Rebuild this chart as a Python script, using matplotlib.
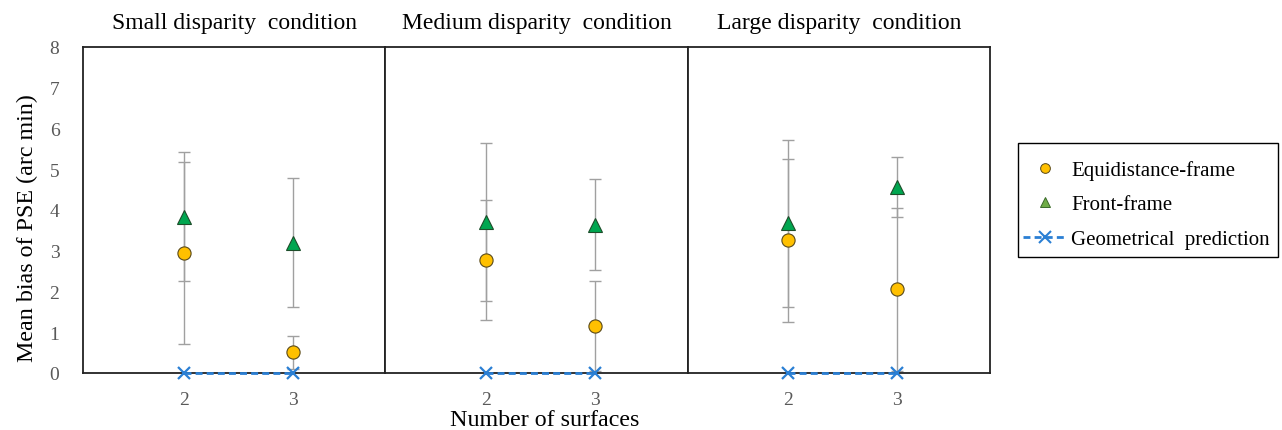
import matplotlib
matplotlib.use("Agg")
import matplotlib.pyplot as plt
from matplotlib.lines import Line2D
from matplotlib.patches import Rectangle

plt.rcParams['font.family'] = ['Liberation Serif', 'DejaVu Serif']

panels = ["Small disparity  condition", "Medium disparity  condition", "Large disparity  condition"]
surfaces = [2, 3]
equi_mean = [[2.95, 0.51], [2.77, 1.15], [3.26, 2.05]]
equi_err = [[2.24, 0.40], [1.47, 1.10], [2.00, 2.01]]
front_mean = [[3.84, 3.20], [3.71, 3.64], [3.68, 4.57]]
front_err = [[1.58, 1.58], [1.94, 1.12], [2.05, 0.73]]
geo_pred = [[0, 0], [0, 0], [0, 0]]
yticks = [0, 1, 2, 3, 4, 5, 6, 7, 8]

W, H = 1282, 431
fig = plt.figure(figsize=(W / 100, H / 100), dpi=100)

left_px, right_px, top_px, bot_px = 83, 990, 48, 374
pw = (right_px - left_px) / 3

equi_c = "#FFC000"
front_c = "#00A650"
geo_c = "#2A7FD4"
err_c = "#A0A0A0"
tick_c = "#595959"

axes = []
for i, title in enumerate(panels):
    ax = fig.add_axes([(left_px + i * pw) / W, (H - bot_px) / H, pw / W, (bot_px - top_px) / H])
    axes.append(ax)
    ax.errorbar(surfaces, front_mean[i], yerr=front_err[i], fmt='none', ecolor=err_c,
                elinewidth=1.0, capsize=4, capthick=1.0, zorder=2)
    ax.errorbar(surfaces, equi_mean[i], yerr=equi_err[i], fmt='none', ecolor=err_c,
                elinewidth=1.0, capsize=4, capthick=1.0, zorder=2)
    ax.plot(surfaces, geo_pred[i], linestyle=(0, (2.5, 1.5)), color=geo_c, lw=2.0,
            marker='x', markersize=9, markeredgewidth=1.6, clip_on=False, zorder=4)
    ax.plot(surfaces, equi_mean[i], linestyle='none', marker='o', markersize=9.5,
            markerfacecolor=equi_c, markeredgecolor="#5a4a1a", markeredgewidth=0.8, zorder=5)
    ax.plot(surfaces, front_mean[i], linestyle='none', marker='^', markersize=9.5,
            markerfacecolor=front_c, markeredgecolor="#1d4d2a", markeredgewidth=0.8, zorder=5)
    ax.set_xlim(1.075, 3.85)
    ax.set_ylim(0, 8)
    ax.set_xticks(surfaces)
    ax.set_xticklabels([str(s) for s in surfaces])
    ax.tick_params(axis='x', length=0, labelsize=14, colors=tick_c, pad=13)
    ax.set_yticks(yticks)
    if i == 0:
        ax.tick_params(axis='y', length=0, labelsize=14, colors=tick_c, pad=17)
    else:
        ax.tick_params(axis='y', length=0, labelleft=False)
    for s in ax.spines.values():
        s.set_linewidth(1.3)
        s.set_color('#222222')
    ax.set_title(title, fontsize=17, pad=14)

fig.text(27 / W, 1 - 228 / H, "Mean bias of PSE (arc min)", rotation=90,
         ha='center', va='center', fontsize=17.3)
fig.text(545 / W, 1 - 421 / H, "Number of surfaces", ha='center', va='center', fontsize=17.3)

# legend frame
fig.patches.append(Rectangle((1018 / W, 1 - 258 / H), 260 / W, 114 / H,
                             transform=fig.transFigure, fill=False, edgecolor='black',
                             linewidth=1.0))

handles = [
    Line2D([], [], linestyle='none', marker='o', markersize=7, markerfacecolor=equi_c,
           markeredgecolor="#5a4a1a", markeredgewidth=0.7),
    Line2D([], [], linestyle='none', marker='^', markersize=7, markerfacecolor="#70AD47",
           markeredgecolor="#3a6a2a", markeredgewidth=0.7),
    Line2D([], [], linestyle=(0, (2.5, 1.5)), color=geo_c, lw=2.0, marker='x', markersize=8,
           markeredgewidth=1.5),
]
labels = ["Equidistance-frame", "Front-frame", "Geometrical  prediction"]
leg = fig.legend(handles, labels, loc='upper left', bbox_to_anchor=(1023 / W, 1 - 161 / H),
                 fontsize=15, frameon=False,
                 handlelength=2.1, handletextpad=0.2, labelspacing=0.72, borderpad=0,
                 borderaxespad=0)

fig.savefig("out.png", dpi=100)
